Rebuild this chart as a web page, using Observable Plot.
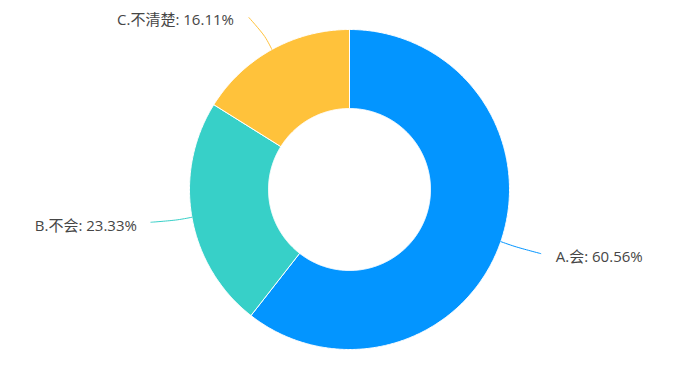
<!DOCTYPE html>
<html>
<head>
<meta charset="utf-8">
<script src="https://cdn.jsdelivr.net/npm/d3@7"></script>
<script src="https://cdn.jsdelivr.net/npm/@observablehq/plot@0.6"></script>
<style>
  html, body { margin: 0; padding: 0; background: #fff; }
  #chart { width: 690px; height: 365px; }
</style>
</head>
<body>
<div id="chart"></div>
<script>
// Data
const categories = ["A.会", "B.不会", "C.不清楚"];
const percents = [60.56, 23.33, 16.11];
const colors = ["#0395FF", "#37D0C8", "#FFC23B"];

// Layout (pixel-space chart geometry)
const cx = 349, cy = 189, R = 160, r = 81;
// leader-line end offsets and text offsets per slice (layout only)
const leaderEnd = [{dx: 40, dy: 12}, {dx: -41, dy: 5}, {dx: -23, dy: -32}];
const textGap = [15, -14, -15];
const textDy = [4, 4, 3];

const pie = d3.pie().sort(null).value(d => d.value);
const arcs = pie(categories.map((c, i) => ({name: c, value: percents[i]})));

const pt = (a, rad) => ({x: cx + rad * Math.sin(a), y: cy - rad * Math.cos(a)});

const slicePts = [];
arcs.forEach((a, i) => {
  const n = Math.max(8, Math.ceil((a.endAngle - a.startAngle) * 120));
  for (let k = 0; k <= n; k++) {
    const t = a.startAngle + (a.endAngle - a.startAngle) * k / n;
    slicePts.push({...pt(t, R), s: i});
  }
  for (let k = n; k >= 0; k--) {
    const t = a.startAngle + (a.endAngle - a.startAngle) * k / n;
    slicePts.push({...pt(t, r), s: i});
  }
  slicePts.push({...pt(a.startAngle, R), s: i});
});

const leaderPts = [];
const labels = [];
arcs.forEach((a, i) => {
  const m = (a.startAngle + a.endAngle) / 2;
  const right = Math.sin(m) >= 0;
  const p1 = pt(m, R);
  const p2 = pt(m, R + 15);
  const p3 = {x: p1.x + leaderEnd[i].dx, y: p1.y + leaderEnd[i].dy};
  leaderPts.push({...p1, s: i}, {...p2, s: i}, {...p3, s: i});
  labels.push({
    x: p3.x + textGap[i],
    y: p3.y + textDy[i],
    text: `${a.data.name}: ${a.data.value.toFixed(2)}%`,
    right
  });
});

const textStyle = {x: "x", y: "y", text: "text", fill: "#464646", fontSize: 15};

const chart = Plot.plot({
  width: 690,
  height: 365,
  margin: 0,
  x: {domain: [0, 690], range: [0, 690], axis: null},
  y: {domain: [0, 365], range: [0, 365], axis: null},
  color: {domain: [0, 1, 2], range: colors},
  style: {fontFamily: "'Open Sans', 'Noto Sans CJK SC', sans-serif", background: "#fff"},
  marks: [
    Plot.line(slicePts, {x: "x", y: "y", z: "s", fill: "s", stroke: "#fff", strokeWidth: 1, curve: "linear"}),
    Plot.line(leaderPts, {x: "x", y: "y", z: "s", stroke: "s", strokeWidth: 1, curve: "catmull-rom", fill: "none"}),
    Plot.text(labels.filter(d => d.right), {...textStyle, textAnchor: "start"}),
    Plot.text(labels.filter(d => !d.right), {...textStyle, textAnchor: "end"})
  ]
});
document.getElementById("chart").appendChild(chart);
</script>
</body>
</html>
